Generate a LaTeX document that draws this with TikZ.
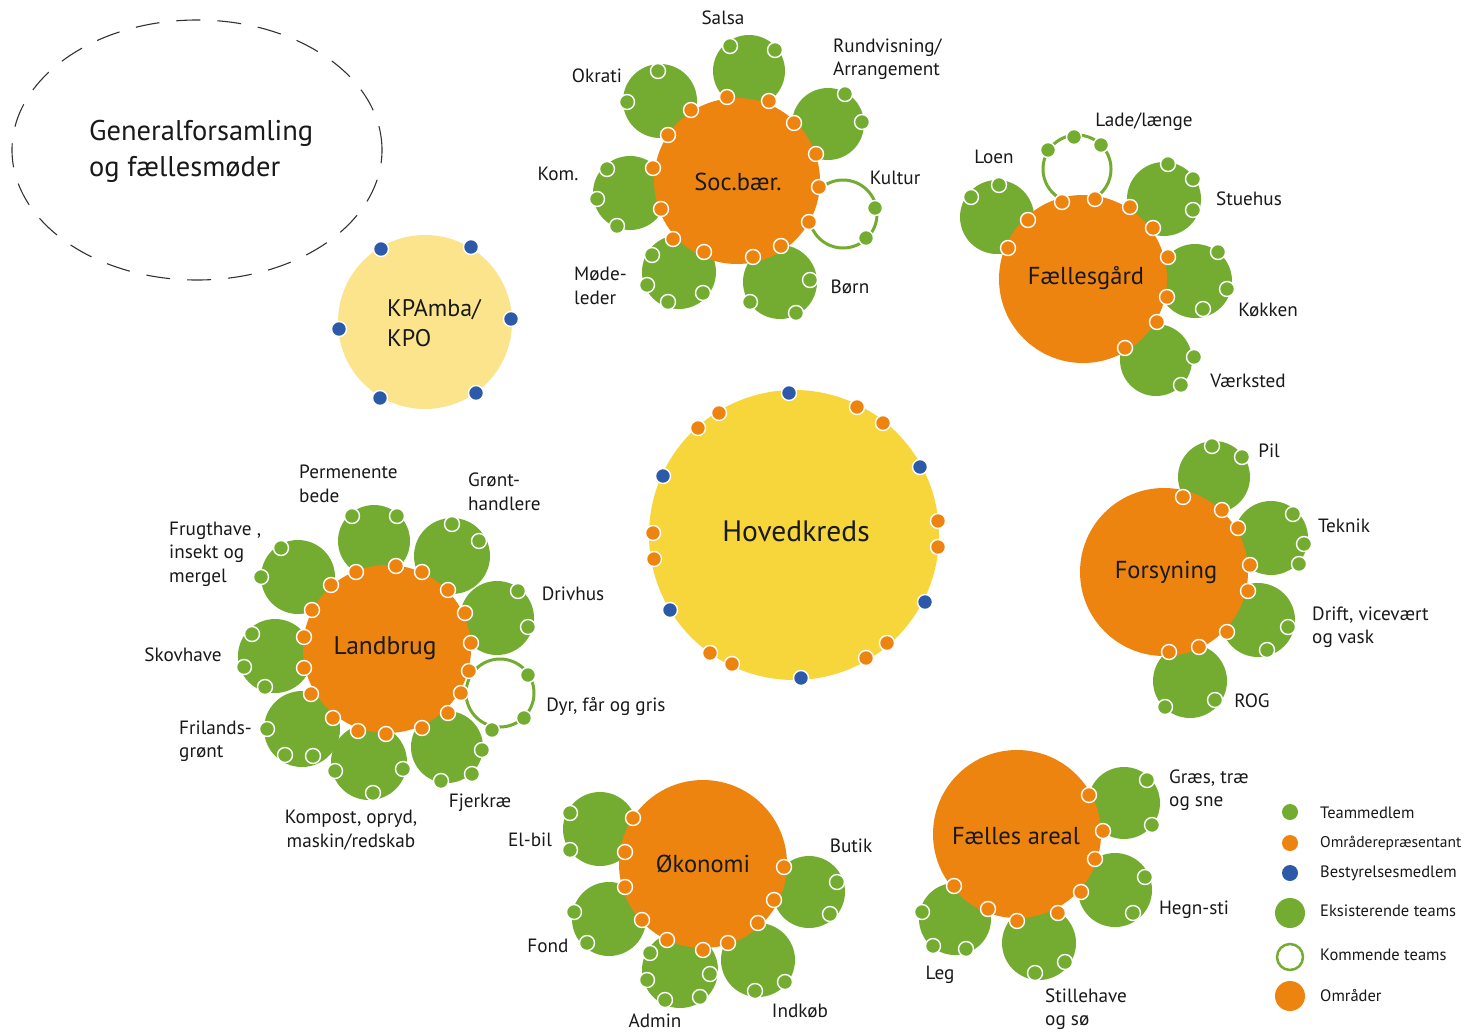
\documentclass[tikz,border=0pt]{standalone}
\usepackage{fontspec}
\setmainfont{PT Sans}
\definecolor{tgreen}{RGB}{116,172,50}
\definecolor{torange}{RGB}{238,132,16}
\definecolor{thyellow}{RGB}{247,214,60}
\definecolor{tkyellow}{RGB}{251,228,140}
\definecolor{tblue}{RGB}{44,90,168}
\definecolor{ttext}{RGB}{25,25,25}
\tikzset{
  teamc/.style={fill=tgreen},
  ringc/.style={draw=tgreen,line width=3pt},
  areac/.style={fill=torange},
  gdot/.style={fill=tgreen,draw=white,line width=1.4pt},
  odot/.style={fill=torange,draw=white,line width=1.4pt},
  bdot/.style={fill=tblue,draw=white,line width=1.4pt},
  lab/.style={text=ttext,inner sep=0pt,font=\fontsize{19.2}{23.5}\selectfont,align=left},
  labc/.style={lab,align=center},
  area/.style={text=ttext,inner sep=0pt,font=\fontsize{24.5}{28}\selectfont},
  leg/.style={text=ttext,inner sep=0pt,anchor=west,font=\fontsize{16.5}{18}\selectfont},
}
\newcommand\teamat[3]{\fill[teamc] (#1,#2) circle[radius=#3pt];}
\newcommand\ringat[3]{\draw[ringc] (#1,#2) circle[radius=#3pt];}
\begin{document}
\begin{tikzpicture}[x=1pt,y=-1pt]
\useasboundingbox[fill=white] (0,0) rectangle (1466,1031);

% ---------- General assembly ----------
\draw[dash pattern=on 24pt off 17pt,line width=1.1pt,black!80] (197,150) ellipse[x radius=185pt,y radius=130pt];
\node[lab,anchor=west,font=\fontsize{28.5}{36}\selectfont] (gen) at (89,151) {Generalforsamling\\og fællesmøder};

% ---------- KPAmba/KPO ----------
\fill[tkyellow] (425,322) circle[radius=87pt];
\foreach \p in {(381,249),(471,247),(511,319),(339,329),(380,398),(476,393)} \filldraw[bdot] \p circle[radius=7.5pt];
\node[area,anchor=west,align=left,font=\fontsize{24}{30}\selectfont] (kpa) at (387,323) {KPAmba/\\KPO};

% ---------- Hovedkreds ----------
\fill[thyellow] (794,535) circle[radius=145pt];
\foreach \p in {(789,393),(663,476),(920,467),(670,610),(925,602),(801,678)} \filldraw[bdot] \p circle[radius=7.5pt];
\foreach \p in {(719,413),(698,428),(857,407),(883,423),(653,533),(654,559),(938,521),(938,547),(710,653),(732,664),(887,643),(866,658)} \filldraw[odot] \p circle[radius=7.5pt];
\node[area,font=\fontsize{29.5}{32}\selectfont] (hoved) at (796,531) {Hovedkreds};

% ---------- Soc.baer. ----------
\teamat{749}{71}{36}
\teamat{828}{124}{36}
\teamat{660}{101}{37}
\teamat{630}{193}{37}
\teamat{679}{272}{37}
\teamat{780}{282}{37}
\ringat{843}{214}{34}
\fill[areac] (737,181) circle[radius=83pt];
\foreach \p in {(727,97),(769,101),(691,110),(794,123),(668,135),(816,154),(653,168),(819,187),(661,209),(809,222),(673,239),(704,252),(781,246),(753,257)} \filldraw[odot] \p circle[radius=7.5pt];
\foreach \p in {(730,46),(775,50),(845,94),(862,122),(658,71),(627,102),(607,169),(597,199),(617,226),(652,255),(647,285),(668,302),(703,293),(810,280),(750,302),(796,313),(875,208),(866,238)} \filldraw[gdot] \p circle[radius=7.5pt];
\node[area] (soc) at (738,182) {Soc.bær.};
\node[labc] (salsa) at (723,18) {Salsa};
\node[labc] (okrati) at (597,76) {Okrati};
\node[lab,anchor=west] (rund) at (833,59) {Rundvisning/\\Arrangement};
\node[labc] (kom) at (558,174) {Kom.};
\node[labc] (kultur) at (895,178) {Kultur};
\node[lab,anchor=west] (mode) at (574,286) {Møde-\\leder};
\node[labc] (born) at (850,287) {Børn};

% ---------- Faellesgaard ----------
\teamat{997}{217}{37}
\teamat{1164}{199}{37}
\teamat{1195}{281}{37}
\teamat{1156}{360}{36}
\ringat{1077}{169}{34}
\fill[areac] (1083,279) circle[radius=84pt];
\foreach \p in {(1062,202),(1095,199),(1130,207),(1153,228),(1168,257),(1167,297),(1157,322),(1125,348),(1028,220),(1008,248)} \filldraw[odot] \p circle[radius=7.5pt];
\foreach \p in {(971,197),(999,185),(1048,150),(1074,137),(1101,145),(1168,164),(1193,179),(1193,210),(1218,252),(1227,289),(1203,309),(1194,357),(1181,385)} \filldraw[gdot] \p circle[radius=7.5pt];
\node[area] (fg) at (1086,278) {Fællesgård};
\node[labc] (lade) at (1144,122) {Lade/længe};
\node[labc] (loen) at (994,157) {Loen};
\node[labc] (stue) at (1249,199) {Stuehus};
\node[labc] (kok) at (1268,310) {Køkken};
\node[labc] (vaerk) at (1248,381) {Værksted};

% ---------- Landbrug ----------
\teamat{374}{541}{36}
\teamat{452}{556}{38}
\teamat{298}{577}{37}
\teamat{275}{656}{37}
\teamat{302}{729}{38}
\teamat{369}{762}{38}
\teamat{447}{747}{36}
\teamat{497}{618}{37}
\ringat{500}{693}{34}
\fill[areac] (387,649) circle[radius=84pt];
\foreach \p in {(356,572),(396,566),(422,572),(331,585),(312,610),(304,637),(304,668),(311,694),(333,718),(358,731),(386,734),(422,728),(448,713),(461,693),(469,671),(471,643),(465,613),(448,590)} \filldraw[odot] \p circle[radius=7.5pt];
\foreach \p in {(352,516),(397,516),(452,524),(479,541),(281,548),(261,577),(252,634),(244,667),(265,687),(267,729),(285,755),(313,756),(335,771),(403,769),(373,793),(482,750),(472,774),(441,781),(518,591),(528,627),(528,675),(524,718),(492,730)} \filldraw[gdot] \p circle[radius=7.5pt];
\node[area,font=\fontsize{25.5}{28}\selectfont] (land) at (385,648) {Landbrug};
\node[lab,anchor=west] (perm) at (299,484) {Permenente\\bede};
\node[lab,anchor=west] (gront) at (468,492) {Grønt-\\handlere};
\node[lab,anchor=west] (frugt) at (169,554) {Frugthave ,\\insekt og\\mergel};
\node[labc] (driv) at (573,594) {Drivhus};
\node[labc] (skov) at (183,655) {Skovhave};
\node[labc] (dyr) at (606,706) {Dyr, får og gris};
\node[lab,anchor=west] (fril) at (179,741) {Frilands-\\grønt};
\node[labc] (fjer) at (480,803) {Fjerkræ};
\node[labc] (komp) at (351,830) {Kompost, opryd,\\maskin/redskab};

% ---------- Oekonomi ----------
\teamat{600}{829}{37}
\teamat{609}{919}{37}
\teamat{680}{970}{38}
\teamat{758}{960}{37}
\teamat{809}{892}{36}
\fill[areac] (703,864) circle[radius=84pt];
\foreach \p in {(633,818),(625,852),(625,887),(642,920),(667,940),(703,950),(728,943),(758,923),(774,900),(784,867)} \filldraw[odot] \p circle[radius=7.5pt];
\foreach \p in {(570,813),(570,850),(574,912),(587,943),(650,953),(647,980),(665,1000),(700,997),(710,974),(785,982),(755,991),(837,882),(830,914)} \filldraw[gdot] \p circle[radius=7.5pt];
\node[area] (oko) at (703,864) {Økonomi};
\node[labc] (elbil) at (530,840) {El-bil};
\node[labc] (fond) at (548,946) {Fond};
\node[labc] (admin) at (655,1021) {Admin};
\node[labc] (indk) at (800,1011) {Indkøb};
\node[labc] (butik) at (851,846) {Butik};

% ---------- Faelles areal ----------
\teamat{1124}{803}{36}
\teamat{1115}{890}{37}
\teamat{1039}{943}{37}
\teamat{955}{919}{36}
\fill[areac] (1017,834) circle[radius=84pt];
\foreach \p in {(1089,795),(1103,831),(1095,859),(1081,892),(1058,913),(1017,921),(988,909),(954,886)} \filldraw[odot] \p circle[radius=7.5pt];
\foreach \p in {(1147,780),(1152,825),(1145,877),(1133,913),(1065,962),(1035,973),(922,912),(933,946),(966,949)} \filldraw[gdot] \p circle[radius=7.5pt];
\node[area] (fa) at (1016,836) {Fælles areal};
\node[lab,anchor=west] (graes) at (1169,790) {Græs, træ\\og sne};
\node[labc] (hegn) at (1194,910) {Hegn-sti};
\node[labc] (leg) at (940,975) {Leg};
\node[lab,anchor=west] (still) at (1045,1009) {Stillehave\\og sø};

% ---------- Forsyning ----------
\teamat{1214}{477}{36}
\teamat{1271}{538}{37}
\teamat{1258}{620}{37}
\teamat{1190}{681}{37}
\fill[areac] (1164,572) circle[radius=84pt];
\foreach \p in {(1183,497),(1222,510),(1238,528),(1250,565),(1248,591),(1227,632),(1199,647),(1169,652)} \filldraw[odot] \p circle[radius=7.5pt];
\foreach \p in {(1212,446),(1242,457),(1293,514),(1304,544),(1299,564),(1288,627),(1267,650),(1215,700),(1165,707)} \filldraw[gdot] \p circle[radius=7.5pt];
\node[area] (fors) at (1166,572) {Forsyning};
\node[labc] (pil) at (1269,451) {Pil};
\node[labc] (tek) at (1344,526) {Teknik};
\node[lab,anchor=west] (drift) at (1312,627) {Drift, vicevært\\og vask};
\node[labc] (rog) at (1252,701) {ROG};

% ---------- Legend ----------
\fill[tgreen] (1290,812) circle[radius=8pt];
\fill[torange] (1290,843) circle[radius=8pt];
\fill[tblue] (1290,873) circle[radius=8pt];
\fill[tgreen] (1290,913) circle[radius=15pt];
\draw[tgreen,line width=2.5pt] (1290,957) circle[radius=13pt];
\fill[torange] (1290,996) circle[radius=15pt];
\node[leg] (l1) at (1320,813) {Teammedlem};
\node[leg,font=\fontsize{15.5}{16}\selectfont] (l2) at (1320,843) {Områderepræsentant};
\node[leg] (l3) at (1320,873) {Bestyrelsesmedlem};
\node[leg] (l4) at (1320,911) {Eksisterende teams};
\node[leg] (l5) at (1320,955) {Kommende teams};
\node[leg] (l6) at (1320,996) {Områder};
\end{tikzpicture}
\end{document}
